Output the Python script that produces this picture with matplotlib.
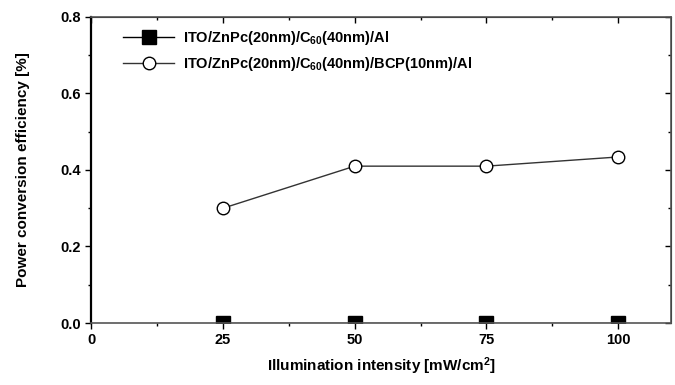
import matplotlib.pyplot as plt
from matplotlib.ticker import MultipleLocator

plt.rcParams['font.family'] = ['Liberation Sans', 'DejaVu Sans']
plt.rcParams['font.weight'] = 'bold'
plt.rcParams['axes.labelweight'] = 'bold'
plt.rcParams['mathtext.fontset'] = 'custom'
plt.rcParams['mathtext.rm'] = 'Liberation Sans:bold'
plt.rcParams['mathtext.bf'] = 'Liberation Sans:bold'
plt.rcParams['mathtext.default'] = 'bf'

# datos
intensidad = [25, 50, 75, 100]
pce_sin_bcp = [0.0, 0.0, 0.0, 0.0]
pce_con_bcp = [0.30, 0.41, 0.41, 0.434]
etiqueta_1 = "ITO/ZnPc(20nm)/C$_{60}$(40nm)/Al"
etiqueta_2 = "ITO/ZnPc(20nm)/C$_{60}$(40nm)/BCP(10nm)/Al"

fig = plt.figure(figsize=(6.75, 3.85), dpi=100)
ax = fig.add_axes([0.135, 0.161, 0.859, 0.795])

ax.plot(intensidad, pce_sin_bcp, color='black', lw=1, marker='s', ms=10,
        mfc='black', mec='black', label=etiqueta_1, clip_on=True, zorder=2)
ax.plot(intensidad, pce_con_bcp, color='#333333', lw=1, marker='o', ms=9,
        mfc='white', mec='black', mew=1, label=etiqueta_2, zorder=3)

ax.set_xlim(0, 110)
ax.set_ylim(0, 0.8)
ax.xaxis.set_major_locator(MultipleLocator(25))
ax.xaxis.set_minor_locator(MultipleLocator(12.5))
ax.yaxis.set_major_locator(MultipleLocator(0.2))
ax.yaxis.set_minor_locator(MultipleLocator(0.1))
ax.yaxis.set_major_formatter(lambda v, p: f"{v:.1f}")

ax.tick_params(which='both', direction='out', labelsize=10.5, width=1, colors='black')
ax.tick_params(which='major', length=4)
ax.tick_params(which='minor', length=2)

for lado in ['top', 'right', 'bottom']:
    ax.spines[lado].set_color('#555555')
    ax.spines[lado].set_linewidth(1.2)
ax.spines['left'].set_linewidth(1.6)
ax.spines['left'].set_color('black')

top = ax.secondary_xaxis('top')
top.xaxis.set_major_locator(MultipleLocator(25))
top.xaxis.set_minor_locator(MultipleLocator(12.5))
top.tick_params(which='both', direction='in', labeltop=False, width=1)
top.tick_params(which='major', length=4)
top.tick_params(which='minor', length=2)
right = ax.secondary_yaxis('right')
right.yaxis.set_major_locator(MultipleLocator(0.2))
right.yaxis.set_minor_locator(MultipleLocator(0.1))
right.tick_params(which='both', direction='in', labelright=False, width=1)
right.tick_params(which='major', length=4)
right.tick_params(which='minor', length=2)

ax.set_xlabel("Illumination intensity [mW/cm$^{2}$]", fontsize=11, labelpad=6)
ax.set_ylabel("Power conversion efficiency [%]", fontsize=11, labelpad=22)

ax.legend(loc='upper left', frameon=False, fontsize=10.5, handlelength=3.5,
          handletextpad=0.6, borderaxespad=0.4, labelspacing=0.6,
          bbox_to_anchor=(0.035, 1.0))

plt.savefig("out.png")
